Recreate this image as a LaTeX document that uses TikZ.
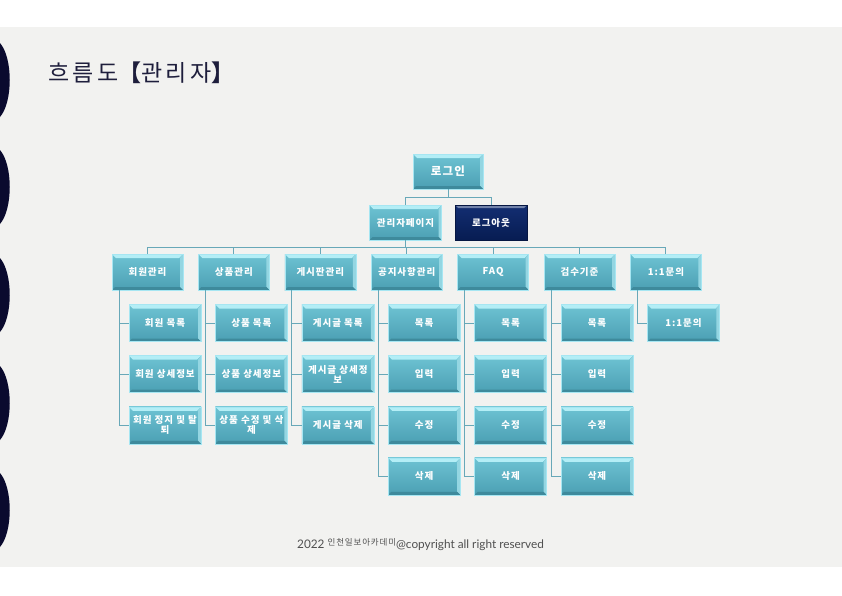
\documentclass[tikz,border=0pt]{standalone}
\usepackage{fontspec}
\setmainfont{Lato}
\newfontfamily\krfont{Noto Sans CJK KR}
\newfontfamily\krtitle[LetterSpace=14]{Noto Sans CJK KR}
\newfontfamily\krbox[LetterSpace=10]{Noto Sans CJK KR}
\usetikzlibrary{positioning,calc}

\definecolor{bandgray}{HTML}{F2F2F0}
\definecolor{wavenavy}{HTML}{0A0A2E}
\definecolor{boxtop}{HTML}{6EC3D3}
\definecolor{boxbot}{HTML}{4B9FB3}
\definecolor{boxedge}{HTML}{A6E6F2}
\definecolor{bevlight}{HTML}{B4EEF6}
\definecolor{bevdark}{HTML}{3E8A9C}
\definecolor{navytop}{HTML}{132E72}
\definecolor{navybot}{HTML}{071C52}
\definecolor{linkcol}{HTML}{68A8B8}
\definecolor{titlecol}{HTML}{1E1E3C}
\definecolor{footcol}{HTML}{505050}

\begin{document}
\begin{tikzpicture}[
    x=1pt, y=-1pt,
    box/.style={draw=boxedge, line width=0.6pt, top color=boxtop, bottom color=boxbot,
        minimum width=71pt, minimum height=36pt, text width=68pt, inner sep=1pt,
        align=center, text=white, font=\krbox\bfseries\fontsize{9.5}{10}\selectfont,
        path picture={
            \fill[bevlight] (path picture bounding box.north west) -- (path picture bounding box.north east)
                -- ([xshift=-4pt,yshift=-4pt]path picture bounding box.north east)
                -- ([xshift=4pt,yshift=-4pt]path picture bounding box.north west) -- cycle;
            \fill[bevlight!70!boxbot] (path picture bounding box.north east) -- (path picture bounding box.south east)
                -- ([xshift=-3pt,yshift=3pt]path picture bounding box.south east)
                -- ([xshift=-3pt,yshift=-4pt]path picture bounding box.north east) -- cycle;
            \fill[bevdark] (path picture bounding box.south west) -- (path picture bounding box.south east)
                -- ([xshift=-3pt,yshift=3pt]path picture bounding box.south east)
                -- ([xshift=3pt,yshift=3pt]path picture bounding box.south west) -- cycle;
        }},
    navybox/.style={box, draw=navybot!80!black, top color=navytop, bottom color=navybot,
        path picture={
            \fill[navytop!60!white] (path picture bounding box.north west) -- (path picture bounding box.north east)
                -- ([xshift=-3pt,yshift=-3pt]path picture bounding box.north east)
                -- ([xshift=3pt,yshift=-3pt]path picture bounding box.north west) -- cycle;
        }},
    subbox/.style={box, minimum width=72pt, minimum height=37pt},
    link/.style={draw=linkcol, line width=1pt}
]
    \useasboundingbox (0,0) rectangle (842,595);
    % background band and wave edge
    \fill[bandgray] (0,27) rectangle (842,567);
    \foreach \cy in {80,187,295,403,510}
        \fill[wavenavy] (0,\cy-37) .. controls (13,\cy-22) and (13,\cy+22) .. (0,\cy+37) -- cycle;

    \node[anchor=west, text=titlecol, font=\krtitle\fontsize{23}{25}\selectfont] (title) at (45,73)
        {흐름도{\bfseries【}관리자{\bfseries】}};

    % top levels
    \node[box, minimum width=70pt, minimum height=35pt, font=\krbox\bfseries\fontsize{11.5}{12}\selectfont] (login) at (448,171.5) {로그인};
    \node[box, minimum width=72pt, minimum height=35pt] (admin) at (405.5,222.5) {관리자페이지};
    \node[navybox, minimum width=72pt, minimum height=35pt] (logout) at (491,222.5) {로그아웃};

    % menu row
    \node[box] (member) at (147.5,272) {회원관리};
    \node[box, right=14.8pt of member] (goods) {상품관리};
    \node[box, right=14.8pt of goods] (board) {게시판관리};
    \node[box, right=14.8pt of board] (notice) {공지사항관리};
    \node[box, right=14.8pt of notice] (faq) {FAQ};
    \node[box, right=14.8pt of faq] (check) {검수기준};
    \node[box, right=14.8pt of check] (qna) {1:1문의};

    % sub menus
    \node[subbox, below=14pt of member, xshift=17.5pt] (member1) {회원 목록};
    \node[subbox, below=13.5pt of member1] (member2) {회원 상세정보};
    \node[subbox, below=13.5pt of member2] (member3) {회원 정지 및 탈\\퇴};
    \node[subbox, below=14pt of goods, xshift=17.5pt] (goods1) {상품 목록};
    \node[subbox, below=13.5pt of goods1] (goods2) {상품 상세정보};
    \node[subbox, below=13.5pt of goods2] (goods3) {상품 수정 및 삭\\제};
    \node[subbox, below=14pt of board, xshift=17.5pt] (board1) {게시글 목록};
    \node[subbox, below=13.5pt of board1] (board2) {게시글 상세정\\보};
    \node[subbox, below=13.5pt of board2] (board3) {게시글 삭제};
    \foreach \m in {notice,faq,check}{
        \node[subbox, below=14pt of \m, xshift=17.5pt] (\m1) {목록};
        \node[subbox, below=13.5pt of \m1] (\m2) {입력};
        \node[subbox, below=13.5pt of \m2] (\m3) {수정};
        \node[subbox, below=13.5pt of \m3] (\m4) {삭제};
    }
    \node[subbox, below=14pt of qna, xshift=17.5pt] (qna1) {1:1문의};

    % connectors
    \draw[link] (login.south) -- ++(0,8) coordinate (split);
    \draw[link] (split) -| (admin.north);
    \draw[link] (split) -| (logout.north);
    \draw[link] (admin.south) -- ++(0,7) coordinate (bus);
    \foreach \m in {member,goods,board,notice,faq,check,qna}
        \draw[link] (bus) -| (\m.north);
    \foreach \m/\n in {member/3,goods/3,board/3,notice/4,faq/4,check/4,qna/1}
        \foreach \i in {1,...,\n}
            \draw[link] ([xshift=-28.5pt]\m.south) |- (\m\i.west);

    \node[anchor=base west, text=footcol, font=\fontsize{11.8}{13}\selectfont, inner sep=0pt] (foot) at (297,548)
        {2022 \raisebox{2.5pt}{\krbox\fontsize{8.5}{9}\selectfont 인천일보아카데미}@copyright all right reserved};
\end{tikzpicture}
\end{document}
